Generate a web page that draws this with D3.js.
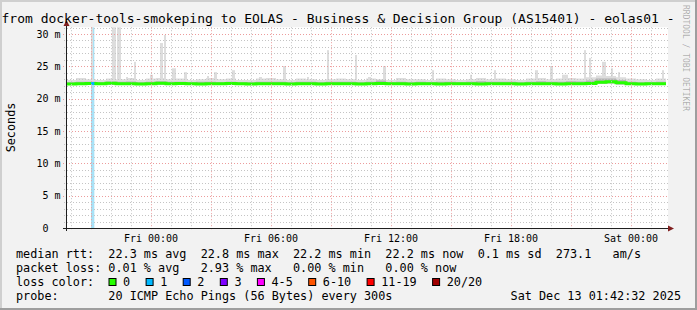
<!DOCTYPE html>
<html>
<head>
<meta charset="utf-8">
<script src="https://cdn.jsdelivr.net/npm/d3@7"></script>
<style>
body { margin: 0; background: #f2f2f2; }
text { font-family: "DejaVu Sans Mono", monospace; white-space: pre; }
</style>
</head>
<body>
<svg id="chart" width="697" height="310"></svg>
<script>
// ---- data ----
var titleText = "from docker-tools-smokeping to EOLAS - Business & Decision Group (AS15401) - eolas01 -"
var startTime = new Date(2025, 11, 11, 19, 45)   // Thu 19:45
var endTime = new Date(2025, 11, 13, 1, 45)      // Sat 01:45

// one value per 30 min interval from startTime (ms)
var medianRtt = [22.25, 22.3, 22.35, 22.3, 22.4, 22.3, 22.3, 22.25, 22.3, 22.4,
                 22.3, 22.35, 22.3, 22.25, 22.3, 22.3, 22.35, 22.3, 22.25, 22.3,
                 22.3, 22.3, 22.25, 22.3, 22.3, 22.25, 22.3, 22.3, 22.3, 22.25,
                 22.3, 22.35, 22.3, 22.3, 22.25, 22.3, 22.3, 22.25, 22.3, 22.3,
                 22.3, 22.25, 22.3, 22.3, 22.3, 22.25, 22.3, 22.3, 22.3, 22.25,
                 22.3, 22.3, 22.35, 22.55, 22.6, 22.45, 22.3, 22.25, 22.3, 22.3]
var smokeLow = [22.1, 22.1, 22.15, 22.1, 22.15, 22.1, 22.1, 22.1, 22.1, 22.15,
                22.1, 22.1, 22.1, 22.1, 22.1, 22.1, 22.1, 22.1, 22.1, 22.1,
                22.1, 22.1, 22.1, 22.1, 22.1, 22.1, 22.1, 22.1, 22.1, 22.1,
                22.1, 22.1, 22.1, 22.1, 22.1, 22.1, 22.1, 22.1, 22.1, 22.1,
                22.1, 22.1, 22.1, 22.1, 22.1, 22.1, 22.1, 22.1, 22.1, 22.1,
                22.1, 22.1, 22.15, 22.3, 22.35, 22.2, 22.1, 22.1, 22.1, 22.1]
var smokeTop = [22.9, 23.2, 23.0, 22.9, 23.1, 23.0, 23.2, 22.9, 23.1, 23.2,
                23.0, 23.1, 22.9, 23.0, 23.2, 23.0, 23.1, 22.9, 22.9, 23.1,
                23.2, 23.0, 22.9, 23.1, 23.0, 22.9, 23.0, 23.1, 23.0, 22.9,
                23.1, 23.0, 22.9, 23.2, 23.0, 23.0, 22.9, 23.1, 23.0, 22.9,
                23.0, 23.2, 23.0, 23.1, 23.0, 22.9, 23.1, 23.2, 23.0, 23.1,
                23.2, 23.1, 23.3, 23.6, 23.5, 23.3, 23.1, 23.0, 22.9, 23.1]
var darkTop = [22.55, 22.6, 22.6, 22.55, 22.65, 22.6, 22.65, 22.55, 22.6, 22.7,
               22.6, 22.6, 22.55, 22.6, 22.6, 22.55, 22.6, 22.55, 22.55, 22.6,
               22.6, 22.6, 22.55, 22.6, 22.6, 22.55, 22.6, 22.6, 22.6, 22.55,
               22.6, 22.8, 22.55, 22.6, 22.55, 22.6, 22.55, 22.6, 22.6, 22.55,
               22.6, 22.7, 22.6, 22.6, 22.6, 22.55, 22.6, 22.7, 22.6, 22.6,
               22.7, 22.65, 22.8, 23.1, 23.1, 22.9, 22.6, 22.55, 22.55, 22.6]

// tall smoke spikes: [hours after start, minutes wide, top ms]
var spikes = [[1.25, 6, 35], [2.3, 12, 35], [2.55, 12, 35], [3.0, 6, 23.35], [3.4, 6, 25.7],
              [4.2, 9, 23.7], [4.7, 9, 28.6], [4.9, 6, 29.85], [5.3, 12, 24.7], [5.9, 9, 24.1],
              [7.05, 6, 23.5], [7.4, 9, 24.1], [8.3, 9, 24.4], [9.65, 9, 23.35], [10.85, 9, 25.05],
              [12.05, 6, 23.35], [13.05, 6, 27.5], [14.45, 6, 26.75], [15.1, 9, 23.35], [15.85, 9, 25.05],
              [18.3, 6, 24.4], [20.2, 6, 23.7], [21.4, 6, 24.4], [23.45, 9, 24.4], [24.2, 9, 25.05],
              [24.8, 18, 23.7], [25.9, 6, 27.5], [26.15, 6, 26.3], [26.8, 12, 25.7], [27.25, 6, 24.7],
              [27.6, 6, 24.1], [29.8, 6, 24.4]]

// packet loss events: [hours after start, minutes wide, lost pings]
var lossEvents = [[1.25, 10, 1]]

var lossLabels = ["0", "1", "2", "3", "4-5", "6-10", "11-19", "20/20"]
var lossColors = ["#26ff00", "#00b8ff", "#0059ff", "#7e00ff", "#ff00ff", "#ff5500", "#ff0000", "#a10000"]
var lossBack = ["#ffffff", "#a8e2f7", "#a8c4f7", "#cfa8f7", "#f7a8f7", "#f7c4a8", "#f7a8a8", "#d8a0a0"]

var rttLine = "median rtt:  22.3 ms avg  22.8 ms max  22.2 ms min  22.2 ms now  0.1 ms sd  273.1   am/s"
var lossLine = "packet loss: 0.01 % avg   2.93 % max   0.00 % min   0.00 % now"
var probeLine = "probe:       20 ICMP Echo Pings (56 Bytes) every 300s"
var stampText = "Sat Dec 13 01:42:32 2025"

// ---- layout ----
var W = 697, H = 310
var left = 66, right = 666, bottom = 228

var svg = d3.select("#chart")

// background + 3d frame
svg.append("rect").attr("width", W).attr("height", H).attr("fill", "#f2f2f2")
svg.append("path").attr("d", "M0,0H697V2H2V310H0Z").attr("fill", "#cfcfcf")
svg.append("path").attr("d", "M697,0V310H0V308H695V0Z").attr("fill", "#9e9e9e")

//Create scale functions
var x = d3.scaleTime().domain([startTime, endTime]).range([left, right])
var y = d3.scaleLinear().domain([0, 30]).range([bottom, 34])
var plotTop = y(31.05)

function tAt(h) { return d3.timeMinute.offset(startTime, Math.round(h * 60)) }
function interval(i) { return d3.timeMinute.offset(startTime, i * 30) }
function clampI(i) { return Math.min(i, medianRtt.length - 1) }

// canvas
svg.append("rect")
    .attr("x", left).attr("y", plotTop)
    .attr("width", 668 - left).attr("height", bottom - plotTop)
    .attr("fill", "#ffffff")

svg.append("clipPath").attr("id", "plotclip")
    .append("rect").attr("x", left).attr("y", plotTop)
    .attr("width", right - left).attr("height", bottom - plotTop)

var plot = svg.append("g").attr("clip-path", "url(#plotclip)")

// loss background
plot.selectAll("rect.lossbg")
    .data(lossEvents)
    .enter()
    .append("rect")
    .attr("class", "lossbg")
    .attr("x", function(d) { return x(tAt(d[0])) })
    .attr("width", function(d) { return x(d3.timeMinute.offset(tAt(d[0]), d[1])) - x(tAt(d[0])) })
    .attr("y", plotTop)
    .attr("height", bottom - plotTop)
    .attr("fill", function(d) { return lossBack[d[2]] })

var idx = d3.range(medianRtt.length + 1)

// smoke base
var smokeArea = d3.area()
    .curve(d3.curveStepAfter)
    .x(function(i) { return x(interval(i)) })
    .y0(function(i) { return y(smokeLow[clampI(i)]) })
    .y1(function(i) { return y(smokeTop[clampI(i)]) })
plot.append("path")
    .datum(idx)
    .attr("fill", "#dddddd")
    .attr("d", smokeArea)

// spikes
plot.selectAll("rect.spike")
    .data(spikes)
    .enter()
    .append("rect")
    .attr("class", "spike")
    .attr("x", function(d) { return x(tAt(d[0])) })
    .attr("width", function(d) { return x(d3.timeMinute.offset(tAt(d[0]), d[1])) - x(tAt(d[0])) })
    .attr("y", function(d) { return y(d[2]) })
    .attr("height", function(d) { return y(22.4) - y(d[2]) })
    .attr("fill", "#dddddd")

// darker smoke near median
var darkArea = d3.area()
    .curve(d3.curveStepAfter)
    .x(function(i) { return x(interval(i)) })
    .y0(function(i) { return y(smokeLow[clampI(i)]) })
    .y1(function(i) { return y(darkTop[clampI(i)]) })
plot.append("path")
    .datum(idx)
    .attr("fill", "#b4b4b4")
    .attr("d", darkArea)

// grid
var gridG = svg.append("g")
var hours = x.ticks(d3.timeHour.every(1))
gridG.selectAll("line.vminor")
    .data(hours.filter(function(d) { return d.getHours() % 3 != 0 }))
    .enter().append("line")
    .attr("x1", function(d) { return Math.round(x(d)) + 0.5 })
    .attr("x2", function(d) { return Math.round(x(d)) + 0.5 })
    .attr("y1", plotTop).attr("y2", bottom + 3)
    .attr("stroke", "#c4c4c4").attr("stroke-dasharray", "1,2")
gridG.selectAll("line.vmajor")
    .data(hours.filter(function(d) { return d.getHours() % 3 == 0 }))
    .enter().append("line")
    .attr("x1", function(d) { return Math.round(x(d)) + 0.5 })
    .attr("x2", function(d) { return Math.round(x(d)) + 0.5 })
    .attr("y1", plotTop).attr("y2", bottom + 3)
    .attr("stroke", "#ec9c9c").attr("stroke-dasharray", "1,2")

var yMinor = d3.range(1, 32).filter(function(v) { return v % 5 != 0 })
var yMajor = y.ticks(6)
gridG.selectAll("line.hminor")
    .data(yMinor)
    .enter().append("line")
    .attr("x1", left - 2).attr("x2", 668)
    .attr("y1", function(d) { return Math.round(y(d)) + 0.5 })
    .attr("y2", function(d) { return Math.round(y(d)) + 0.5 })
    .attr("stroke", "#c4c4c4").attr("stroke-dasharray", "1,2")
gridG.selectAll("line.hmajor")
    .data(yMajor)
    .enter().append("line")
    .attr("x1", left - 3).attr("x2", 668)
    .attr("y1", function(d) { return Math.round(y(d)) + 0.5 })
    .attr("y2", function(d) { return Math.round(y(d)) + 0.5 })
    .attr("stroke", "#ec9c9c").attr("stroke-dasharray", "1,2")

// median line, green
var medLine = d3.line()
    .curve(d3.curveStepAfter)
    .x(function(i) { return x(interval(i)) })
    .y(function(i) { return y(medianRtt[clampI(i)]) })
plot.append("path")
    .datum(idx)
    .attr("fill", "none")
    .attr("stroke", lossColors[0])
    .attr("stroke-width", 3)
    .attr("d", medLine)

// median coloured by loss where pings were lost
plot.selectAll("line.lossmed")
    .data(lossEvents)
    .enter().append("line")
    .attr("x1", function(d) { return x(tAt(d[0])) })
    .attr("x2", function(d) { return x(d3.timeMinute.offset(tAt(d[0]), d[1])) })
    .attr("y1", function(d) { return y(medianRtt[Math.floor(d[0] * 2)]) })
    .attr("y2", function(d) { return y(medianRtt[Math.floor(d[0] * 2)]) })
    .attr("stroke", function(d) { return lossColors[d[2]] })
    .attr("stroke-width", 3)

// axes
svg.append("line").attr("x1", left - 3).attr("x2", 670)
    .attr("y1", bottom + 0.5).attr("y2", bottom + 0.5).attr("stroke", "#1f1f1f")
svg.append("line").attr("x1", left + 0.5).attr("x2", left + 0.5)
    .attr("y1", bottom + 3).attr("y2", 24).attr("stroke", "#1f1f1f")
svg.append("path").attr("d", "M668,225.5L674,228.5L668,231.5Z").attr("fill", "#801f1f")
svg.append("path").attr("d", "M63.5,26L66.5,20L69.5,26Z").attr("fill", "#801f1f")

// x labels
svg.selectAll("text.xlab")
    .data(x.ticks(d3.timeHour.every(6)))
    .enter().append("text")
    .attr("x", function(d) { return x(d) })
    .attr("y", 241.5)
    .attr("text-anchor", "middle")
    .attr("font-size", "10px")
    .text(d3.timeFormat("%a %H:%M"))

// y labels
svg.selectAll("text.ylab")
    .data(yMajor)
    .enter().append("text")
    .attr("x", 60.5)
    .attr("y", function(d) { return y(d) + 3.5 })
    .attr("text-anchor", "end")
    .attr("font-size", "10px")
    .text(function(d) { return d == 0 ? "0  " : d + " m" })

// title, axis title, watermark
svg.append("text").attr("x", 1.5).attr("y", 22.5).attr("font-size", "13px").text(titleText)
svg.append("text")
    .attr("transform", "translate(15,127.5) rotate(-90)")
    .attr("text-anchor", "middle").attr("font-size", "11.8px").text("Seconds")
svg.append("text")
    .attr("transform", "translate(683,5) rotate(90)")
    .attr("font-size", "8px").attr("fill", "rgba(0,0,0,0.3)")
    .text("RRDTOOL / TOBI OETIKER")

// legend
var lg = svg.append("g").attr("font-size", "11.8px")
lg.append("text").attr("x", 16).attr("y", 258).text(rttLine)
lg.append("text").attr("x", 16).attr("y", 272).text(lossLine)
lg.append("text").attr("x", 16).attr("y", 286).text("loss color:")
lg.append("text").attr("x", 16).attr("y", 300).text(probeLine)
lg.append("text").attr("x", 681).attr("y", 300).attr("text-anchor", "end").text(stampText)

var pos = 108.5
lossLabels.forEach(function(lab, i) {
    lg.append("rect").attr("x", pos + 0.5).attr("y", 278.5).attr("width", 7).attr("height", 7)
        .attr("fill", lossColors[i]).attr("stroke", "#000")
    lg.append("text").attr("x", pos + 14.6).attr("y", 286).text(lab)
    pos = pos + 14.6 + lab.length * 7.1 + 15.4
})
</script>
</body>
</html>
